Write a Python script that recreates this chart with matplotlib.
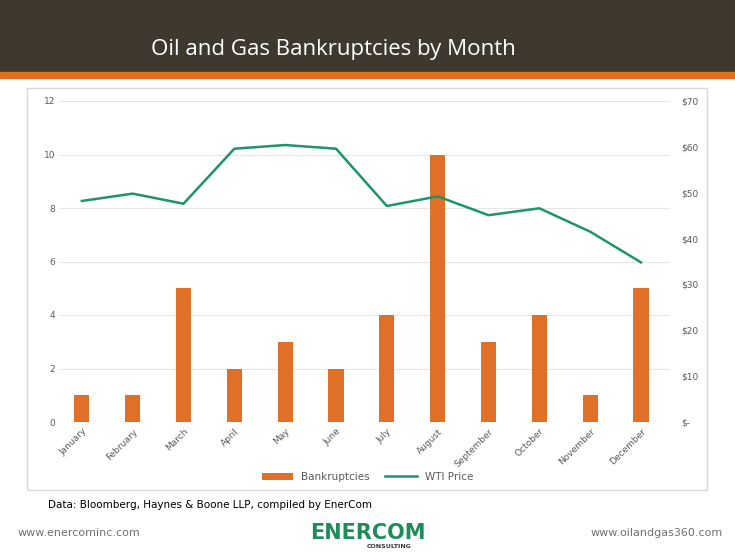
import numpy as np
import matplotlib.pyplot as plt
from matplotlib.patches import Rectangle

months = ["January", "February", "March", "April", "May", "June", "July",
          "August", "September", "October", "November", "December"]
bankruptcies = [1, 1, 5, 2, 3, 2, 4, 10, 3, 4, 1, 5]
wti_price = [48.2, 49.8, 47.6, 59.6, 60.4, 59.6, 47.1, 49.2, 45.1, 46.6, 41.5, 34.8]
price_ticks = [0, 10, 20, 30, 40, 50, 60, 70]
price_labels = ["$-", "$10", "$20", "$30", "$40", "$50", "$60", "$70"]

orange = "#E07028"
green = "#1E9468"

fig = plt.figure(figsize=(7.35, 5.52), dpi=100)

# --- header band ---
fig.patches.append(Rectangle((0, 1 - 72/552), 1, 72/552, transform=fig.transFigure,
                             color="#3E382E", zorder=0))
fig.patches.append(Rectangle((0, 1 - 78/552), 1, 6/552, transform=fig.transFigure,
                             color="#E07020", zorder=0))
fig.text(0.205, 1 - 49/552, "Oil and Gas Bankruptcies by Month", color="white",
         fontsize=16, va="center", family="Open Sans")
# chart frame
fig.patches.append(Rectangle((27/735, 1 - 490/552), 680/735, 402/552,
                             transform=fig.transFigure, fill=False,
                             edgecolor="#D9D9D9", linewidth=1))

ax = fig.add_axes([60/735, 1 - 422/552, 610/735, 321/552])
x = np.arange(len(months))
ax.bar(x, bankruptcies, width=0.3, color=orange, label="Bankruptcies", zorder=3)
ax.set_ylim(0, 12)
ax.set_yticks(range(0, 13, 2))
ax.set_xlim(-0.43, 11.57)
ax.set_xticks(x)
ax.set_xticklabels(months, rotation=45, ha="right", rotation_mode="anchor")
ax.grid(axis="y", color="#E6E6E6", linewidth=0.8, zorder=0)
for s in ax.spines.values():
    s.set_visible(False)
ax.tick_params(length=0, labelsize=6.5, labelcolor="#595959")

ax2 = ax.twinx()
ax2.plot(x, wti_price, color=green, linewidth=1.8, label="WTI Price")
ax2.set_ylim(0, 70)
ax2.set_yticks(price_ticks)
ax2.set_yticklabels(price_labels)
for s in ax2.spines.values():
    s.set_visible(False)
ax2.tick_params(length=0, labelsize=6.5, labelcolor="#595959", pad=8)

h1, l1 = ax.get_legend_handles_labels()
h2, l2 = ax2.get_legend_handles_labels()
fig.legend(h1 + h2, l1 + l2, loc="center", bbox_to_anchor=(0.5, 1 - 477/552),
           ncol=2, frameon=False, fontsize=7.5, labelcolor="#595959",
           handlelength=3, columnspacing=1.5)

fig.text(48/735, 1 - 505/552, "Data: Bloomberg, Haynes & Boone LLP, compiled by EnerCom",
         fontsize=7.5, va="center", family="Liberation Sans Narrow")
fig.text(18/735, 1 - 533/552, "www.enercominc.com", fontsize=8, color="#707070", va="center")
fig.text(1 - 12/735, 1 - 533/552, "www.oilandgas360.com", fontsize=8, color="#707070",
         va="center", ha="right")
fig.text(0.5, 1 - 533/552, "ENERCOM", fontsize=15, color="#1E8C5A", va="center",
         ha="center", fontweight="bold")
fig.text(0.53, 1 - 546/552, "CONSULTING", fontsize=4.5, color="#333333", va="center",
         ha="center", fontweight="bold")

fig.savefig("out.png", dpi=100)
